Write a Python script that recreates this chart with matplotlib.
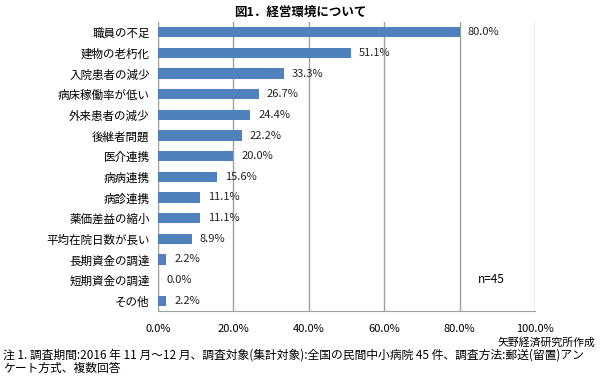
import matplotlib
matplotlib.use("Agg")
import matplotlib.pyplot as plt

plt.rcParams['font.family'] = ['Noto Sans CJK JP', 'DejaVu Sans']

# data
categories = ["職員の不足", "建物の老朽化", "入院患者の減少", "病床稼働率が低い",
              "外来患者の減少", "後継者問題", "医介連携", "病病連携", "病診連携",
              "薬価差益の縮小", "平均在院日数が長い", "長期資金の調達",
              "短期資金の調達", "その他"]
values = [80.0, 51.1, 33.3, 26.7, 24.4, 22.2, 20.0, 15.6, 11.1, 11.1, 8.9, 2.2, 0.0, 2.2]
xticks = [0, 20, 40, 60, 80, 100]
title = "図1．経営環境について"
note_lines = ["注 1. 調査期間:2016 年 11 月～12 月、調査対象(集計対象):全国の民間中小病院 45 件、調査方法:郵送(留置)アン",
              "ケート方式、複数回答"]

fig = plt.figure(figsize=(6, 3.81), dpi=100)
ax = fig.add_axes([0.2633, 0.1837, 0.6284, 0.7586])

ypos = list(range(len(categories)))
ax.barh(ypos, values, height=0.5, color="#4F81BD", zorder=3)
for y, v in zip(ypos, values):
    ax.text(v + 2.2, y, f"{v:.1f}%", va="center", ha="left", fontsize=8, color="#222222")

ax.set_xlim(0, 100)
ax.set_ylim(13.5, -0.5)
ax.set_yticks(ypos)
ax.set_yticklabels(categories, fontsize=8.3)
ax.set_xticks(xticks)
ax.set_xticklabels([f"{t:.1f}%" for t in xticks], fontsize=8)
ax.tick_params(axis="both", length=0, pad=6)
ax.tick_params(axis="x", pad=9)
ax.grid(axis="x", color="#A0A0A0", linewidth=1, zorder=0)
for s in ["top", "right"]:
    ax.spines[s].set_visible(False)
ax.spines["left"].set_color("#A0A0A0")
ax.spines["bottom"].set_color("#A0A0A0")
ax.text(88.5, 11.95, "n=45", fontsize=8.5, ha="center", va="center")

fig.text(0.5, 0.968, title, ha="center", va="center", fontsize=9, fontweight="bold")
fig.text(0.992, 0.102, "矢野経済研究所作成", ha="right", va="center", fontsize=7.8)
fig.text(0.005, 0.068, note_lines[0], ha="left", va="center", fontsize=8.5)
fig.text(0.005, 0.032, note_lines[1], ha="left", va="center", fontsize=8.5)

fig.savefig("out.png", dpi=100)
